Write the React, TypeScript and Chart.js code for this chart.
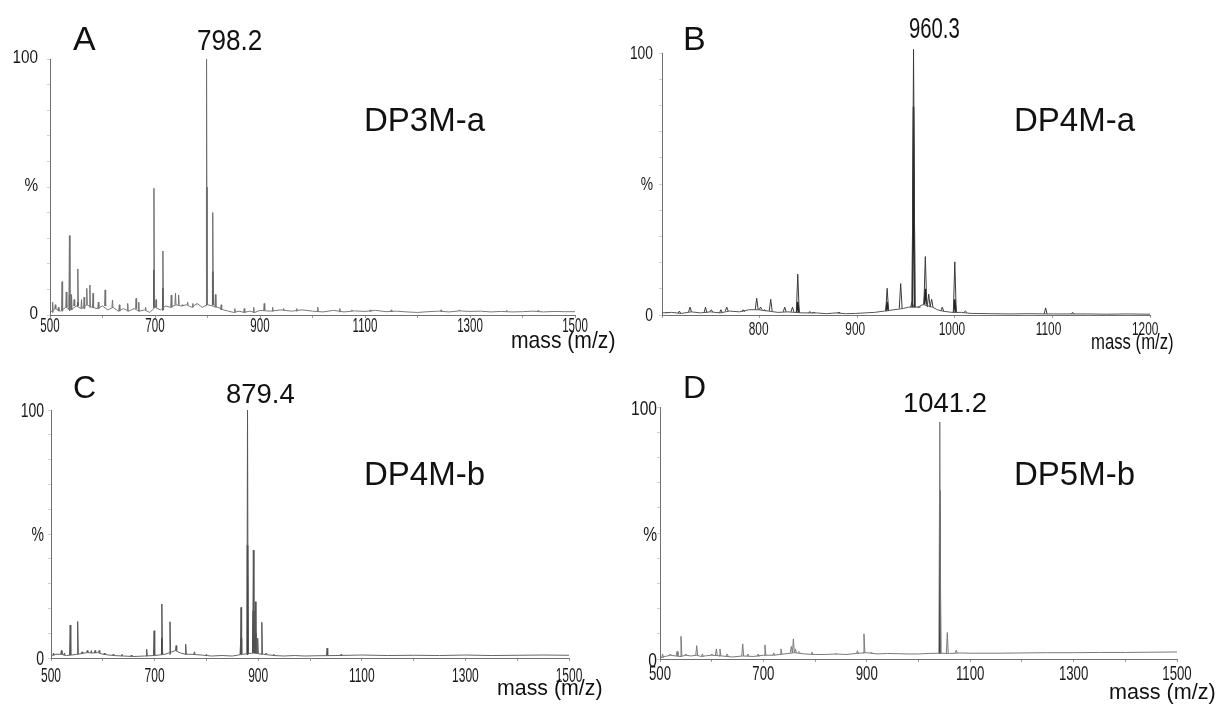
import React, { useEffect, useRef } from "react";
import { Chart, registerables } from "chart.js";

Chart.register(...registerables);

// ---------------- Panel A : DP3M-a ----------------
const aBaseMz = [500, 510, 520, 530, 540, 550, 560, 570, 580, 590, 600, 610, 620, 630, 640, 650, 660, 670, 680, 690, 700, 710, 720, 730, 740, 750, 760, 770, 780, 790, 800, 820, 830, 840, 850, 860, 870, 880, 890, 900, 920, 940, 960, 980, 1000, 1020, 1040, 1060, 1080, 1100, 1120, 1140, 1160, 1180, 1200, 1220, 1240, 1260, 1280, 1300, 1320, 1340, 1360, 1380, 1400, 1420, 1440, 1460, 1480, 1500];
const aBaseInt = [1, 2.5, 1.5, 3, 2, 3.5, 2.5, 4, 3, 2.5, 3.5, 2, 3, 1.5, 2.5, 1.5, 2.5, 1.5, 2, 1, 3, 2, 3.5, 3, 4, 3.5, 4, 3, 4.5, 3, 4, 3, 2, 1.5, 1, 1.5, 1, 1.5, 1, 1.8, 1.5, 2, 1.5, 2, 1.5, 1.2, 1.8, 1.2, 1.6, 1.4, 1.8, 1.3, 1.5, 1.2, 1.0, 1.3, 1.5, 1.2, 1.6, 1.4, 1.5, 1.2, 1.4, 1.2, 1.3, 1.5, 1.2, 1.4, 1.3, 1.3];
const aPeakMz = [505, 510, 516, 523, 531, 537, 541, 546, 553, 560, 565, 570, 576, 582, 592, 605, 619, 632, 648, 664, 669, 682, 698, 702, 715, 731, 739, 745, 752, 762, 772, 780, 798.2, 810, 815, 826, 852, 870, 888, 908, 924, 945, 970, 1010, 1052, 1075, 1110, 1150, 1245, 1280, 1370, 1430];
const aPeakInt = [5, 4, 3, 13, 9, 31, 8, 6, 18, 6, 7, 10.4, 11.7, 8.5, 5, 9.8, 5.9, 4, 4.5, 6.5, 5, 3, 49.5, 6, 25, 7.8, 8.5, 7.8, 4, 5, 4.5, 4, 100, 40, 8, 4, 2.5, 2.5, 3, 4.5, 3, 2.5, 2.5, 3, 2.5, 2, 2, 2, 2, 2, 1.8, 1.8];
const aCoreMz = [537, 553, 698, 715, 798.2, 810];
const aCoreInt = [8, 5, 17.6, 10.5, 50, 17];
const aXTicks = [500, 700, 900, 1100, 1300, 1500];

// ---------------- Panel B : DP4M-a ----------------
const bBaseMz = [700, 710, 720, 730, 740, 750, 760, 770, 780, 790, 800, 810, 820, 830, 845, 860, 870, 880, 890, 900, 910, 920, 930, 940, 950, 955, 965, 970, 980, 985, 990, 1000, 1010, 1020, 1040, 1060, 1080, 1100, 1120, 1140, 1160, 1180, 1205];
const bBaseInt = [0.8, 1, 0.6, 1.2, 0.8, 1.2, 0.8, 1.5, 1.2, 2, 2, 1.5, 1, 1.2, 0.8, 0.8, 0.5, 0.8, 0.5, 0.6, 0.8, 1, 1.5, 2, 2.5, 3, 3, 4, 3, 2, 1.5, 1, 1, 0.6, 0.5, 0.4, 0.5, 0.4, 0.4, 0.4, 0.3, 0.4, 0.3];
const bPeakMz = [705, 718, 729, 745, 751, 761, 767, 784, 798, 802, 806, 812.5, 827, 835, 840.5, 853, 857, 883, 933, 947, 958.8, 960.3, 966, 972.5, 976, 979, 990, 1003, 1014, 1097, 1125];
const bPeakInt = [1, 1.5, 3, 3, 2, 2, 3, 2, 6.4, 3, 2, 6, 3, 3, 15.6, 1.3, 1, 1, 10.2, 12, 5, 101.4, 3, 22.3, 8, 6, 3, 20.3, 1.5, 2.7, 1];
const bCoreMz = [840.5, 933, 960.3, 972.5, 1003];
const bCoreInt = [5, 5, 79.5, 10, 6];
const bXTicks = [800, 900, 1000, 1100, 1200];

// ---------------- Panel C : DP4M-b ----------------
const cBaseMz = [500, 510, 520, 530, 540, 550, 560, 570, 580, 590, 600, 620, 640, 660, 680, 700, 720, 740, 750, 760, 770, 790, 810, 830, 850, 870, 890, 910, 930, 950, 970, 990, 1010, 1050, 1100, 1150, 1200, 1250, 1300, 1350, 1400, 1450, 1500];
const cBaseInt = [1, 1.5, 1.5, 1, 1.2, 1.5, 1.8, 2.2, 2, 2.2, 1.5, 1, 0.8, 0.6, 0.8, 1, 1.5, 3, 2, 1.5, 1.5, 1.2, 0.8, 1, 0.8, 1.5, 2, 1.5, 1, 0.8, 1, 0.8, 0.9, 1, 1.2, 1, 1.1, 1, 1.2, 1, 1.1, 1.2, 1.1];
const cPeakMz = [505, 512, 520, 526, 537, 551.5, 560, 570, 578, 585, 593, 603, 620, 637, 655, 684.7, 699, 714, 729.7, 741.5, 760, 777, 800, 866.8, 879.4, 890.6, 894.5, 899, 907, 915, 930, 1033, 1060];
const cPeakInt = [2, 1.5, 3, 2, 13.3, 14.7, 2.5, 3, 3, 3, 3, 2, 1.5, 1.5, 1.2, 3.5, 11, 21.8, 14.6, 5, 5.6, 2.5, 1.5, 20.4, 100, 43.5, 22.7, 8, 14.4, 2, 1.5, 4, 1.5];
const cCoreMz = [714, 866.8, 879.4, 890.6, 894.5];
const cCoreInt = [8, 8, 45.5, 19, 10];
const cXTicks = [500, 700, 900, 1100, 1300, 1500];

// ---------------- Panel D : DP5M-b ----------------
const dBaseMz = [500, 510, 520, 530, 540, 550, 560, 570, 580, 590, 600, 620, 640, 660, 680, 700, 720, 740, 760, 780, 800, 820, 840, 860, 880, 900, 920, 940, 960, 980, 1000, 1020, 1040, 1060, 1080, 1100, 1150, 1200, 1250, 1300, 1350, 1400, 1450, 1500];
const dBaseInt = [0.5, 1, 1.5, 1.2, 1, 1.5, 1.2, 1.5, 1, 1.3, 1.5, 1.2, 0.8, 1.2, 1, 1.5, 1.5, 2, 2.5, 2, 1.8, 1.8, 2, 1.8, 2.2, 2.5, 2, 2.2, 2.1, 2, 2, 2.2, 2.3, 2.2, 2.4, 2.3, 2.3, 2.4, 2.5, 2.5, 2.6, 2.6, 2.7, 2.8];
const dPeakMz = [505, 520, 533, 540.6, 550, 571, 582, 600, 609, 616, 630, 660, 670, 690, 703, 720, 734, 754, 758, 762, 769, 794, 840, 882, 894.5, 909, 1041.2, 1055.7, 1073];
const dPeakInt = [2, 2, 3, 9, 2, 5.3, 2, 2, 4, 4, 2, 6, 2, 2, 5.6, 2.4, 4, 5, 8, 4, 3, 2.7, 2, 3.3, 10, 2.5, 94, 10.5, 3.5];
const dCoreMz = [1041.2];
const dCoreInt = [67];
const dXTicks = [500, 700, 900, 1100, 1300, 1500];

// y axis labels (shared)
const yTickVals = [0, 50, 100];
const yTickText = ["0", "%", "100"];
const xAxisTitle = "mass (m/z)";

const FONT = '"Liberation Sans", Arial, Helvetica, sans-serif';
const X_TICK_LEN = 3;
const Y_TICK_LEN = 3;

type TextSpec = { x: number; y: number; size: number; sx: number };
type Panel = {
  id: string;
  letter: string;
  peakLabel: string;
  name: string;
  baseMz: number[];
  baseInt: number[];
  peakMz: number[];
  peakInt: number[];
  coreMz: number[];
  coreInt: number[];
  xTicks: number[];
  xMin: number;
  xMax: number;
  canvas: { left: number; top: number; w: number; h: number };
  area: { l: number; t: number; r: number; b: number };
  hw: number;
  peakColor: string;
  baseColor: string;
  tLetter: TextSpec;
  tPeak: TextSpec;
  tName: TextSpec;
  tTitle: TextSpec;
  xt: { size: number; sx: number; off: number };
  yt: { size: number; sx: number; gap: number; dy: number };
};

const panels: Panel[] = [
  {
    id: "A", letter: "A", peakLabel: "798.2", name: "DP3M-a",
    baseMz: aBaseMz, baseInt: aBaseInt, peakMz: aPeakMz, peakInt: aPeakInt, coreMz: aCoreMz, coreInt: aCoreInt,
    xTicks: aXTicks, xMin: 500, xMax: 1500,
    canvas: { left: 0, top: 0, w: 620, h: 360 },
    area: { l: 50, t: 59, r: 575, b: 315 },
    hw: 1.0, peakColor: "#707070", baseColor: "#7a7a7a",
    tLetter: { x: 73, y: 50, size: 34, sx: 1 },
    tPeak: { x: 197, y: 50, size: 30, sx: 0.87 },
    tName: { x: 364, y: 131, size: 33, sx: 1 },
    tTitle: { x: 511, y: 348, size: 24, sx: 0.88 },
    xt: { size: 21, sx: 0.55, off: 17 },
    yt: { size: 18, sx: 0.85, gap: 12, dy: -2 },
  },
  {
    id: "B", letter: "B", peakLabel: "960.3", name: "DP4M-a",
    baseMz: bBaseMz, baseInt: bBaseInt, peakMz: bPeakMz, peakInt: bPeakInt, coreMz: bCoreMz, coreInt: bCoreInt,
    xTicks: bXTicks, xMin: 700, xMax: 1205,
    canvas: { left: 600, top: 0, w: 619, h: 360 },
    area: { l: 662, t: 53, r: 1150, b: 315 },
    hw: 1.5, peakColor: "#3a3a3a", baseColor: "#555555",
    tLetter: { x: 683, y: 50, size: 34, sx: 1 },
    tPeak: { x: 909, y: 38, size: 29, sx: 0.7 },
    tName: { x: 1014, y: 131, size: 33, sx: 1 },
    tTitle: { x: 1091, y: 349, size: 22, sx: 0.76 },
    xt: { size: 18, sx: 0.66, off: 20 },
    yt: { size: 18, sx: 0.77, gap: 9, dy: 0 },
  },
  {
    id: "C", letter: "C", peakLabel: "879.4", name: "DP4M-b",
    baseMz: cBaseMz, baseInt: cBaseInt, peakMz: cPeakMz, peakInt: cPeakInt, coreMz: cCoreMz, coreInt: cCoreInt,
    xTicks: cXTicks, xMin: 500, xMax: 1500,
    canvas: { left: 0, top: 345, w: 620, h: 359 },
    area: { l: 51, t: 410, r: 569, b: 658 },
    hw: 1.2, peakColor: "#555555", baseColor: "#666666",
    tLetter: { x: 73, y: 398, size: 32, sx: 1 },
    tPeak: { x: 226, y: 403, size: 28, sx: 0.98 },
    tName: { x: 364, y: 485, size: 33, sx: 1 },
    tTitle: { x: 497, y: 695, size: 22, sx: 0.97 },
    xt: { size: 20, sx: 0.6, off: 24 },
    yt: { size: 20, sx: 0.7, gap: 7, dy: 0 },
  },
  {
    id: "D", letter: "D", peakLabel: "1041.2", name: "DP5M-b",
    baseMz: dBaseMz, baseInt: dBaseInt, peakMz: dPeakMz, peakInt: dPeakInt, coreMz: dCoreMz, coreInt: dCoreInt,
    xTicks: dXTicks, xMin: 500, xMax: 1500,
    canvas: { left: 600, top: 360, w: 619, h: 344 },
    area: { l: 660, t: 407, r: 1177, b: 659 },
    hw: 1.8, peakColor: "#7a7a7a", baseColor: "#7a7a7a",
    tLetter: { x: 683, y: 398, size: 32, sx: 1 },
    tPeak: { x: 903, y: 412, size: 28, sx: 0.98 },
    tName: { x: 1014, y: 485, size: 33, sx: 1 },
    tTitle: { x: 1109, y: 699, size: 22, sx: 0.98 },
    xt: { size: 21, sx: 0.63, off: 21 },
    yt: { size: 19.5, sx: 0.8, gap: 3, dy: 1 },
  },
];

function trace(mz: number[], it: number[]) {
  return mz.map((m, i) => ({ x: m, y: it[i] }));
}

// level of the nearest recorded baseline point (no interpolation)
function nearestBase(m: number, baseMz: number[], baseInt: number[]) {
  let best = 0;
  let bd = Infinity;
  baseMz.forEach((b, i) => {
    const d = Math.abs(b - m);
    if (d < bd) {
      bd = d;
      best = baseInt[i];
    }
  });
  return best;
}

function sticks(mz: number[], it: number[], hw: number, baseMz: number[], baseInt: number[]) {
  const out: { x: number; y: number | null }[] = [];
  mz.forEach((m, i) => {
    const foot = Math.min(nearestBase(m, baseMz, baseInt), it[i]);
    out.push({ x: m - hw, y: foot }, { x: m, y: it[i] }, { x: m + hw, y: foot }, { x: m + hw, y: null });
  });
  return out;
}

function drawText(
  ctx: CanvasRenderingContext2D,
  text: string,
  x: number,
  y: number,
  size: number,
  sx: number,
  align: CanvasTextAlign,
  color = "#111"
) {
  ctx.save();
  ctx.font = `${size}px ${FONT}`;
  ctx.fillStyle = color;
  ctx.textBaseline = "alphabetic";
  ctx.textAlign = align;
  ctx.translate(x, y);
  ctx.scale(sx, 1);
  ctx.fillText(text, 0, 0);
  ctx.restore();
}

function PanelChart({ p }: { p: Panel }) {
  const ref = useRef<HTMLCanvasElement | null>(null);

  useEffect(() => {
    const canvas = ref.current;
    if (!canvas) return;
    const ox = p.canvas.left;
    const oy = p.canvas.top;

    const annot = {
      id: "annot" + p.id,
      afterDraw(chart: any) {
        const ctx: CanvasRenderingContext2D = chart.ctx;
        const xs = chart.scales.x;
        const ys = chart.scales.y;
        const y0 = ys.getPixelForValue(0);
        p.xTicks.forEach((v) => {
          drawText(ctx, String(v), xs.getPixelForValue(v), y0 + p.xt.off, p.xt.size, p.xt.sx, "center", "#1a1a1a");
        });
        const left = chart.chartArea.left;
        yTickVals.forEach((v, i) => {
          const py = ys.getPixelForValue(v) + 0.358 * p.yt.size + p.yt.dy;
          drawText(ctx, yTickText[i], left - p.yt.gap, py, p.yt.size, p.yt.sx, "right", "#1a1a1a");
        });
        drawText(ctx, p.letter, p.tLetter.x - ox, p.tLetter.y - oy, p.tLetter.size, p.tLetter.sx, "left");
        drawText(ctx, p.peakLabel, p.tPeak.x - ox, p.tPeak.y - oy, p.tPeak.size, p.tPeak.sx, "left");
        drawText(ctx, p.name, p.tName.x - ox, p.tName.y - oy, p.tName.size, p.tName.sx, "left");
        drawText(ctx, xAxisTitle, p.tTitle.x - ox, p.tTitle.y - oy, p.tTitle.size, p.tTitle.sx, "left");
      },
    };

    const chart = new Chart(canvas, {
      type: "line",
      data: {
        datasets: [
          {
            label: "baseline",
            data: trace(p.baseMz, p.baseInt),
            borderColor: p.baseColor,
            borderWidth: 1,
            pointRadius: 0,
            tension: 0,
            fill: false,
            clip: false,
          } as any,
          {
            label: "peaks",
            data: sticks(p.peakMz, p.peakInt, p.hw, p.baseMz, p.baseInt),
            borderColor: p.peakColor,
            borderWidth: 1,
            pointRadius: 0,
            tension: 0,
            fill: false,
            spanGaps: false,
            borderJoinStyle: "bevel",
            clip: false,
          } as any,
          {
            label: "core",
            data: sticks(p.coreMz, p.coreInt, p.hw * 0.8, p.baseMz, p.baseInt),
            borderColor: "#1e1e1e",
            borderWidth: 1.6,
            pointRadius: 0,
            tension: 0,
            fill: false,
            spanGaps: false,
            borderJoinStyle: "bevel",
            clip: false,
          } as any,
        ],
      },
      options: {
        responsive: false,
        animation: false,
        events: [],
        layout: {
          padding: {
            left: p.area.l - ox - Y_TICK_LEN,
            top: p.area.t - oy,
            right: ox + p.canvas.w - p.area.r,
            bottom: oy + p.canvas.h - p.area.b - X_TICK_LEN,
          },
        },
        plugins: {
          legend: { display: false },
          tooltip: { enabled: false },
          title: { display: false },
        },
        scales: {
          x: {
            type: "linear",
            min: p.xMin,
            max: p.xMax,
            offset: false,
            ticks: { display: false, stepSize: 100 },
            grid: {
              display: true,
              drawOnChartArea: false,
              drawTicks: true,
              tickLength: X_TICK_LEN,
              color: "#9a9a9a",
              lineWidth: 1,
            },
            border: { display: true, color: "#707070", width: 1 },
          },
          y: {
            type: "linear",
            min: 0,
            max: 100,
            ticks: { display: false, stepSize: 10 },
            grid: {
              display: true,
              drawOnChartArea: false,
              drawTicks: true,
              tickLength: Y_TICK_LEN,
              color: "#d0d0d0",
              lineWidth: 1,
            },
            border: { display: true, color: "#707070", width: 1 },
          },
        },
      },
      plugins: [annot as any],
    });

    return () => {
      chart.destroy();
    };
  }, [p]);

  return (
    <canvas
      ref={ref}
      width={p.canvas.w}
      height={p.canvas.h}
      style={{
        position: "absolute",
        left: p.canvas.left,
        top: p.canvas.top,
        width: p.canvas.w,
        height: p.canvas.h,
      }}
    />
  );
}

export default function App() {
  return (
    <div
      style={{
        position: "absolute",
        left: 0,
        top: 0,
        width: 1219,
        height: 704,
        background: "#ffffff",
        overflow: "hidden",
      }}
    >
      {panels.map((p) => (
        <PanelChart key={p.id} p={p} />
      ))}
    </div>
  );
}
